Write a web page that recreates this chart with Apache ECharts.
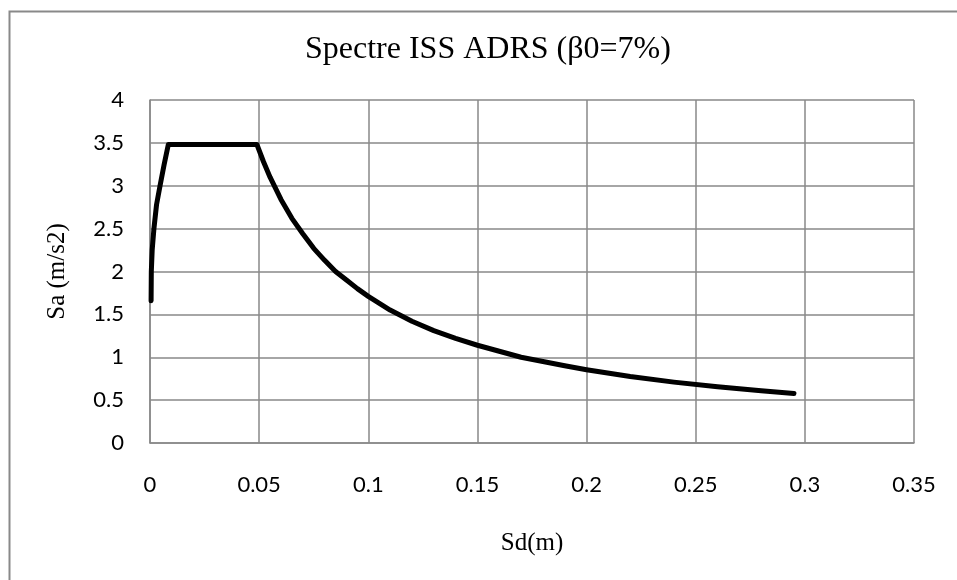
<!DOCTYPE html>
<html>
<head>
<meta charset="utf-8">
<script src="https://cdn.jsdelivr.net/npm/echarts@6/dist/echarts.min.js"></script>
<style>html,body{margin:0;padding:0;background:#fff}#c{width:957px;height:580px}</style>
</head>
<body>
<div id="c"></div>
<script>
const titleText = 'Spectre ISS ADRS (\u03B20=7%)';
const xAxisName = 'Sd(m)';
const yAxisName = 'Sa (m/s2)';
const xTicks = [0, 0.05, 0.1, 0.15, 0.2, 0.25, 0.3, 0.35];
const yTicks = [0, 0.5, 1, 1.5, 2, 2.5, 3, 3.5, 4];
const sd = [0.0005,0.0006,0.001,0.0018,0.003,0.0046,0.0065,0.0084,0.049,0.052,0.055,0.06,0.065,0.07,0.075,0.08,0.085,0.09,0.095,0.1,0.11,0.12,0.13,0.14,0.15,0.16,0.17,0.18,0.19,0.2,0.22,0.24,0.26,0.28,0.295];
const sa = [1.66,2.0,2.25,2.5,2.78,3.0,3.25,3.48,3.48,3.28,3.1,2.84,2.62,2.44,2.27,2.13,2.0,1.9,1.8,1.71,1.55,1.42,1.31,1.22,1.14,1.07,1.0,0.95,0.9,0.855,0.775,0.71,0.655,0.61,0.578];

const chart = echarts.init(document.getElementById('c'));
const grey = '#898989';
chart.setOption({
  animation: false,
  backgroundColor: '#fff',
  graphic: [{
    type: 'rect', left: 7, top: 9, shape: {x: 0, y: 0, width: 1000, height: 1000},
    style: {fill: 'none', stroke: grey, lineWidth: 2}, silent: true
  }],
  title: {
    text: titleText, left: 300, top: 29,
    textStyle: {fontFamily: 'Liberation Serif', fontWeight: 'normal', fontSize: 32, color: '#000'}
  },
  grid: {left: 150, right: 43, top: 100, bottom: 137},
  xAxis: {
    type: 'value', min: xTicks[0], max: xTicks[xTicks.length - 1], interval: 0.05,
    name: xAxisName, nameLocation: 'middle', nameGap: 88,
    nameTextStyle: {fontFamily: 'Liberation Serif', fontSize: 25, color: '#000'},
    axisLine: {show: true, lineStyle: {color: grey, width: 1.5}},
    axisTick: {show: false},
    axisLabel: {fontFamily: 'Lato', fontSize: 22, color: '#000', margin: 31,
      formatter: v => String(parseFloat(v.toFixed(2)))},
    splitLine: {show: true, lineStyle: {color: grey, width: 1.5}}
  },
  yAxis: {
    type: 'value', min: yTicks[0], max: yTicks[yTicks.length - 1], interval: 0.5,
    name: yAxisName, nameLocation: 'middle', nameGap: 80, nameRotate: 90,
    nameTextStyle: {fontFamily: 'Liberation Serif', fontSize: 25, color: '#000'},
    axisLine: {show: true, lineStyle: {color: grey, width: 1.5}},
    axisTick: {show: false},
    axisLabel: {fontFamily: 'Lato', fontSize: 22, color: '#000', margin: 26},
    splitLine: {show: true, lineStyle: {color: grey, width: 1.5}}
  },
  series: [{
    type: 'line', showSymbol: false, symbol: 'none',
    data: sd.map((x, i) => [x, sa[i]]),
    lineStyle: {color: '#000', width: 5, cap: 'round', join: 'round'}
  }]
});
</script>
</body>
</html>
